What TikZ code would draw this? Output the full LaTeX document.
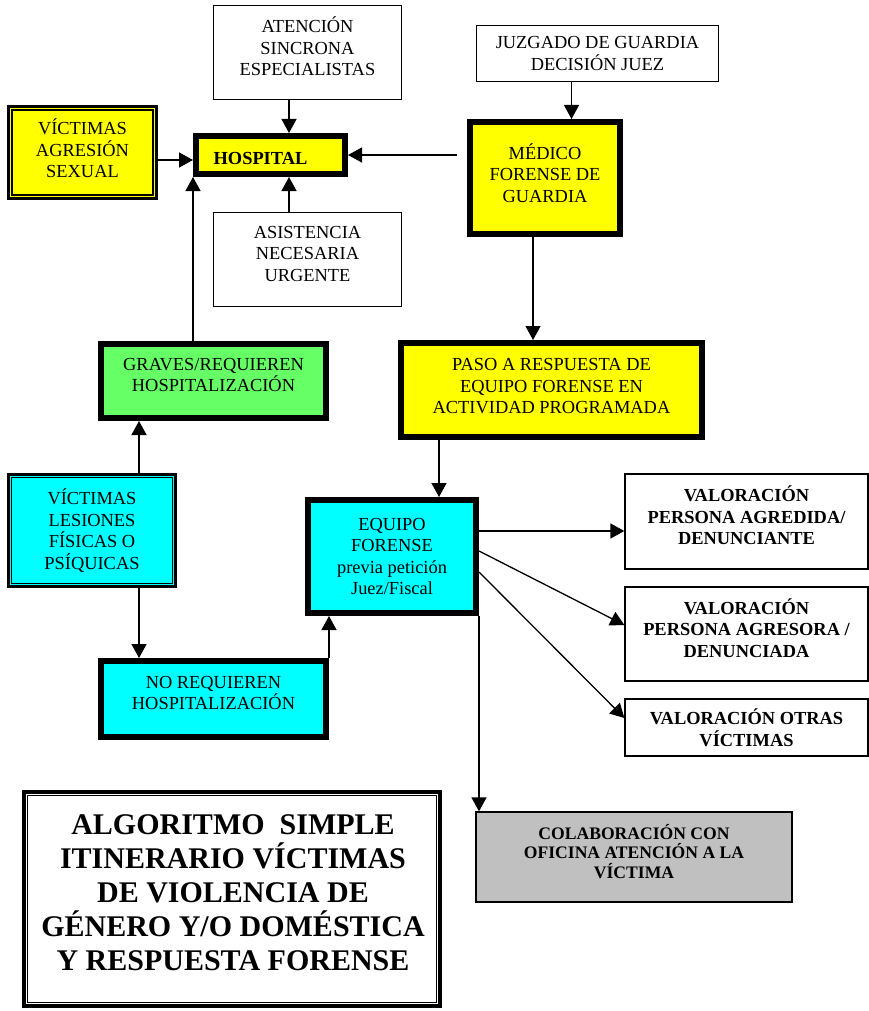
\documentclass[tikz,border=0pt]{standalone}
\usepackage{fontspec}
\setmainfont{Liberation Serif}
\usetikzlibrary{arrows.meta}

\definecolor{amarillo}{HTML}{FFFF00}
\definecolor{verde}{HTML}{66FF66}
\definecolor{turquesa}{HTML}{00FFFF}
\definecolor{gris}{HTML}{C0C0C0}

\tikzset{
  caja/.style={draw, line width=1.3pt, align=center, inner sep=2pt,
    font=\fontsize{18.4}{21.5}\selectfont},
  cajagruesa/.style={caja, line width=6pt},
  cajadoble/.style={caja, line width=3pt},
  negrita/.style={caja, font=\fontsize{18.4}{21.5}\selectfont\bfseries},
  subir/.style={text depth=#1},
  subir/.default=12pt,
  flecha/.style={line width=1.3pt, -{Triangle[length=14pt,width=15pt]}},
}

\begin{document}
\begin{tikzpicture}[x=1pt,y=-1pt]
\useasboundingbox (0,0) rectangle (869,1011);

% cajas de la parte de arriba
\node[caja, subir, minimum width=188, minimum height=94] (atencion) at (307.5,52.5) {ATENCIÓN\\SINCRONA\\ESPECIALISTAS};
\node[cajagruesa, fill=amarillo, text height=20pt, minimum width=149, minimum height=38] (hospital) at (270.5,155) {\textbf{HOSPITAL}\hspace*{20pt}};
\node[cajadoble, subir=8pt, fill=amarillo, minimum width=148, minimum height=92] (agresion) at (82.5,152.5) {VÍCTIMAS\\AGRESIÓN\\SEXUAL};
\node[caja, subir, minimum width=188, minimum height=94] (asistencia) at (307.5,259.5) {ASISTENCIA\\NECESARIA\\URGENTE};
\node[caja, minimum width=242, minimum height=56] (juzgado) at (597.5,53.5) {JUZGADO DE GUARDIA\\DECISIÓN JUEZ};
\node[cajagruesa, subir=10pt, fill=amarillo, minimum width=150, minimum height=112] (medico) at (545,178) {MÉDICO\\FORENSE DE\\GUARDIA};
\node[cajagruesa, subir=8pt, fill=amarillo, minimum width=301, minimum height=94] (paso) at (551.5,390) {PASO A RESPUESTA DE\\EQUIPO FORENSE EN\\ACTIVIDAD PROGRAMADA};

% lado izquierdo
\node[cajagruesa, subir, fill=verde, minimum width=225, minimum height=74] (graves) at (213.5,381) {GRAVES/REQUIEREN\\HOSPITALIZACIÓN};
\node[cajadoble, fill=turquesa, minimum width=167, minimum height=112] (lesiones) at (92,530.5) {VÍCTIMAS\\LESIONES\\FÍSICAS O\\PSÍQUICAS};
\node[cajagruesa, subir, fill=turquesa, minimum width=225, minimum height=76] (norequieren) at (213.5,699) {NO REQUIEREN\\HOSPITALIZACIÓN};
\node[cajagruesa, fill=turquesa, minimum width=168, minimum height=113] (equipo) at (392,556.5) {EQUIPO\\FORENSE\\previa petición\\Juez/Fiscal};

% valoraciones
\node[negrita, subir, minimum width=243, minimum height=95] (agredida) at (746.5,521.5) {VALORACIÓN\\PERSONA AGREDIDA/\\DENUNCIANTE};
\node[negrita, subir, minimum width=243, minimum height=94] (agresora) at (746.5,634) {VALORACIÓN\\PERSONA AGRESORA /\\DENUNCIADA};
\node[negrita, minimum width=243, minimum height=57] (otras) at (746.5,727.5) {VALORACIÓN OTRAS\\VÍCTIMAS};
\node[negrita, subir, fill=gris, minimum width=316, minimum height=90,
  font=\fontsize{17.6}{19.5}\selectfont\bfseries] (colab) at (634,857) {COLABORACIÓN CON\\OFICINA ATENCIÓN A LA\\VÍCTIMA};

% titulo
\node[draw, line width=4pt, minimum width=416, minimum height=214] (titulo) at (232,899) {};
\node[align=center, font=\fontsize{30}{34}\selectfont\bfseries] (textotitulo) at (233,893)
  {ALGORITMO~ SIMPLE\\ITINERARIO VÍCTIMAS\\DE VIOLENCIA DE\\GÉNERO Y/O DOMÉSTICA\\Y RESPUESTA FORENSE};

% bordes dobles
\draw[line width=1.8pt] ([xshift=5pt,yshift=-5pt]agresion.north west) rectangle ([xshift=-5pt,yshift=5pt]agresion.south east);
\draw[line width=1.8pt] ([xshift=4.5pt,yshift=-4.5pt]lesiones.north west) rectangle ([xshift=-4.5pt,yshift=4.5pt]lesiones.south east);
\draw[line width=1.6pt] ([xshift=5.5pt,yshift=-5.5pt]titulo.north west) rectangle ([xshift=-5.5pt,yshift=5.5pt]titulo.south east);

% flechas
\draw[flecha] ([xshift=-18.5pt]atencion.south) -- ([xshift=-18.5pt]atencion.south |- hospital.north);
\draw[flecha] ([xshift=-18.5pt]asistencia.north) -- ([xshift=-18.5pt]asistencia.north |- hospital.south);
\draw[flecha] ([yshift=-7.5pt]agresion.east) -- ([yshift=-7.5pt]agresion.east -| hospital.west);
\draw[flecha, shorten <=10pt] (medico.west |- hospital.east) -- (hospital.east);
\draw[flecha] ([xshift=-26pt]juzgado.south) -- ([xshift=-26pt]juzgado.south |- medico.north);
\draw[flecha] ([xshift=-12pt]medico.south) -- ([xshift=-12pt]medico.south |- paso.north);
\draw[flecha] (graves.north -| hospital.south west) -- (hospital.south west);
\draw[flecha] ([xshift=47pt]lesiones.north) -- ([xshift=47pt]lesiones.north |- graves.south);
\draw[flecha] ([xshift=47pt]lesiones.south) -- ([xshift=47pt]lesiones.south |- norequieren.north);
\draw[flecha] (norequieren.north east) -- (norequieren.north east |- equipo.south);
\draw[flecha] ([xshift=-112.5pt]paso.south) -- ([xshift=-112.5pt]paso.south |- equipo.north);
\draw[flecha] ([yshift=25.5pt]equipo.east) -- ([yshift=25.5pt]equipo.east -| agredida.west);
\draw[flecha] ([yshift=5.5pt]equipo.east) -- ([yshift=9pt]agresora.west);
\draw[flecha] ([yshift=-15.5pt]equipo.east) -- ([yshift=9.5pt]otras.west);
\draw[flecha] (equipo.south east) -- (equipo.south east |- colab.north);
\end{tikzpicture}
\end{document}
